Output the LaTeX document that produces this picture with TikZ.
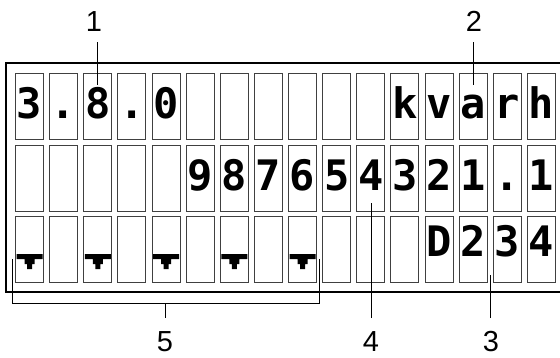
\documentclass[tikz,border=0pt]{standalone}
\usepackage{fontspec}
\setmainfont{Liberation Sans}
\newfontfamily\lcdfont{DejaVu Sans Mono Bold}
\begin{document}
\begin{tikzpicture}[x=1pt,y=-1pt,
  cell/.style={draw=black!75, line width=1pt, minimum width=28pt, minimum height=66pt, inner sep=0pt, anchor=north west},
  lcd/.style={font=\lcdfont\fontsize{42}{42}\selectfont, anchor=base, inner sep=0pt},
  lbl/.style={font=\fontsize{29}{29}\selectfont, inner sep=0pt, anchor=base},
  callout/.style={line width=1pt, black},
  frameline/.style={line width=2pt, black}]
\clip (0,0) rectangle (560,357);
\fill[white] (0,0) rectangle (560,357);
% outer frame
\draw[frameline] (6,63) rectangle (580,292);
% cells
\foreach \r/\t in {1/73,2/145,3/216}{
  \foreach \c in {0,...,15}{
    \node[cell] (c\r-\c) at ({15+34.13*\c},\t) {};
  }
}
% row 1
\foreach \c/\ch in {0/3,1/.,2/8,3/.,4/0,11/k,12/v,13/a,14/r,15/h}{
  \node[lcd] (t1-\c) at ([yshift=22pt]c1-\c.south) {\ch};
}
% row 2
\foreach \c/\ch in {5/9,6/8,7/7,8/6,9/5,10/4,11/3,12/2,13/1,14/.,15/1}{
  \node[lcd] (t2-\c) at ([yshift=22pt]c2-\c.south) {\ch};
}
% row 3
\foreach \c/\ch in {12/D,13/2,14/3,15/4}{
  \node[lcd] (t3-\c) at ([yshift=27pt]c3-\c.south) {\ch};
}
% markers in row 3
\foreach \c in {0,2,4,6,8}{
  \begin{scope}[shift={(c3-\c.south)}]
    \fill (-13,-29) -- (13,-29) -- (13,-24) -- (5,-24) -- (5,-19) -- (2.5,-19)
      -- (2.5,-14) -- (-2.5,-14) -- (-2.5,-19) -- (-5,-19) -- (-5,-24) -- (-13,-24) -- cycle;
  \end{scope}
}
% callout labels
\node[lbl] (l1) at (94,31) {1};
\node[lbl] (l2) at (474,31) {2};
\node[lbl] (l5) at (165,351) {5};
\node[lbl] (l4) at (371,351) {4};
\node[lbl] (l3) at (491,351) {3};
% callout lines
\coordinate (a1) at (97,42);  \coordinate (b1) at (97,85);
\coordinate (a2) at (473,42); \coordinate (b2) at (473,85);
\coordinate (a4) at (371,318); \coordinate (b4) at (371,203);
\coordinate (a3) at (490,318); \coordinate (b3) at (490,275);
\draw[callout] (a1) -- (b1);
\draw[callout] (a2) -- (b2);
\draw[callout] (a4) -- (b4);
\draw[callout] (a3) -- (b3);
% bracket 5
\coordinate (bl) at (12,259);
\coordinate (br) at (319,259);
\coordinate (bm) at (165,303);
\coordinate (bt) at (165,318);
\draw[callout] (bl) -- (12,303) -- (319,303) -- (br);
\draw[callout] (bm) -- (bt);
\end{tikzpicture}
\end{document}
